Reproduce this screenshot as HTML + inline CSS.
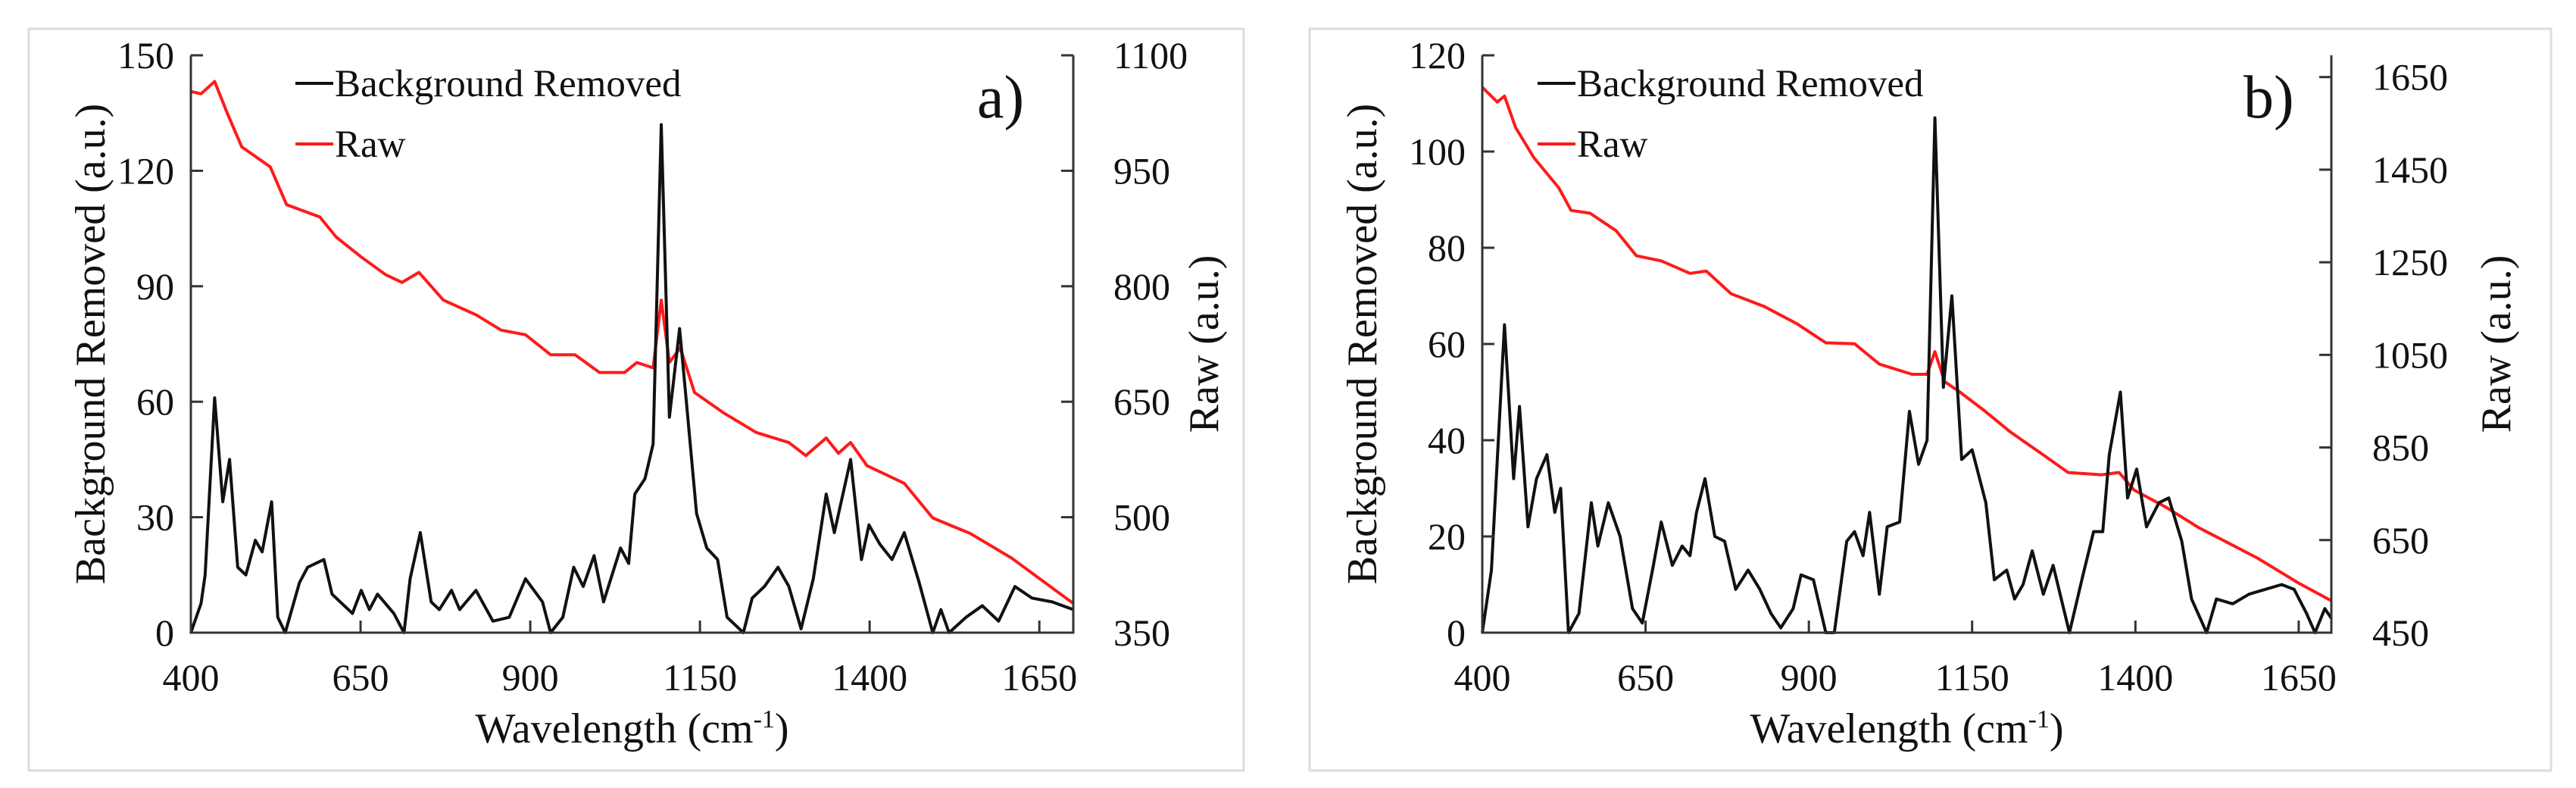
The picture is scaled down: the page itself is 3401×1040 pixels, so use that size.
<!DOCTYPE html>
<html><head><meta charset="utf-8"><style>
html,body{margin:0;padding:0;background:#fff;}
svg{display:block;font-family:"Liberation Serif",serif;}
text{font-family:"Liberation Serif",serif;}
</style></head><body>
<svg id="fig" width="3401" height="1040" viewBox="0 0 3401 1040" xmlns="http://www.w3.org/2000/svg" font-family="Liberation Serif, serif"></svg>
<script>
// ---- Panel a data ----
const aBgX=[400,415,421,435,447,457,469,481,495,505,519,528,539,560,572,596,608,638,651,663,675,699,714,723,738,754,766,784,796,820,845,869,893,918,930,948,964,978,994,1008,1033,1045,1054,1069,1081,1093,1105,1120,1130,1145,1160,1176,1190,1214,1227,1245,1265,1281,1299,1317,1336,1348,1372,1388,1399,1415,1433,1451,1473,1493,1505,1517,1542,1566,1590,1614,1639,1669,1700];
const aBgY=[0,7.6,15,61,34,45,17,15,24,21,34,4,0,13,17,19,10,5,11,6,10,5,0,14,26,8,6,11,6,11,3,4,14,8,0,4,17,12,20,8,22,18,36,40,49,132,56,79,60,31,22,19,4,0,9,12,17,12,1,14,36,26,45,19,28,23,19,26,13,0,6,0,4,7,3,12,9,8,6];
const aRawX=[400,415,435,454,475,517,541,590,614,651,687,711,736,772,820,857,893,930,966,1002,1039,1057,1081,1093,1105,1121,1142,1184,1233,1281,1306,1336,1354,1372,1396,1451,1493,1548,1609,1700];
const aRawY=[1053,1050,1066,1024,981,955,906,890,864,838,815,805,818,782,763,743,737,711,711,688,688,701,694,782,701,720,662,636,610,597,580,603,583,597,567,544,499,479,447,388];
const aLeftTicks=[0,30,60,90,120,150];
const aRightTicks=[350,500,650,800,950,1100];
// ---- Panel b data ----
const bBgX=[400,414,434,448,457,470,483,499,511,520,532,548,567,577,593,611,630,645,662,674,691,706,718,728,741,756,771,788,807,825,842,857,876,888,907,926,939,958,970,983,993,1008,1020,1039,1054,1068,1081,1093,1106,1119,1134,1150,1171,1184,1203,1215,1228,1242,1259,1274,1299,1318,1336,1350,1360,1377,1388,1402,1417,1436,1451,1471,1486,1509,1524,1549,1574,1599,1624,1643,1662,1675,1690,1700];
const bBgY=[0,13,64,32,47,22,32,37,25,30,0,4,27,18,27,20,5,2,14,23,14,18,16,25,32,20,19,9,13,9,4,1,5,12,11,0,0,19,21,16,25,8,22,23,46,35,40,107,51,70,36,38,27,11,13,7,10,17,8,14,0,11,21,21,37,50,28,34,22,27,28,19,7,0,7,6,8,9,10,9,4,0,5,3];
const bRawX=[400,423,434,451,479,517,536,565,605,636,674,718,743,781,831,882,926,970,1008,1058,1081,1093,1108,1131,1171,1209,1259,1297,1348,1375,1398,1448,1498,1587,1650,1700];
const bRawY=[1628,1596,1609,1541,1476,1411,1362,1356,1318,1264,1253,1226,1231,1182,1155,1117,1076,1074,1030,1008,1008,1057,992,970,927,883,834,796,791,796,758,720,676,611,557,519];
const bLeftTicks=[0,20,40,60,80,100,120];
const bRightTicks=[450,650,850,1050,1250,1450,1650];
const xTicks=[400,650,900,1150,1400,1650];

const NS="http://www.w3.org/2000/svg";
const FF='Liberation Serif, serif';
const svg=document.getElementById('fig');
function mk(tag,attrs,parent){const e=document.createElementNS(NS,tag);for(const k in attrs)e.setAttribute(k,attrs[k]);if(tag==='text')e.setAttribute('font-family',FF);(parent||svg).appendChild(e);return e;}

function panel(p){
  const g=mk('g',{});
  
  
  const fr=mk('rect',{x:p.bx,y:38,width:p.bw,height:979,fill:'none',stroke:'#dcdcdc','stroke-width':3},g);
  
  
  const L=p.L,R=p.R,T=73,B=835;
  const xs=v=>L+(v-400)/(1700-400)*(R-L);
  const ys=v=>B-(v-p.ymin)/(p.ymax-p.ymin)*(B-T);
  const yr=v=>B-(v-p.rmin)/(p.rmax-p.rmin)*(B-T);
  const rp=mk('polyline',{points:p.rawX.map((x,i)=>xs(x)+','+yr(p.rawY[i])).join(' '),fill:'none',stroke:'#ff1a1a','stroke-width':4,'stroke-linejoin':'round'},g);
  
  
  const bp=mk('polyline',{points:p.bgX.map((x,i)=>xs(x)+','+ys(p.bgY[i])).join(' '),fill:'none',stroke:'#111','stroke-width':4,'stroke-linejoin':'round'},g);
  
  
  const ax=mk('path',{d:`M${L},${T}V${B}H${R}V${T}`,fill:'none',stroke:'#333','stroke-width':3},g);
  
  
  p.left.forEach(v=>{
    mk('line',{x1:L,x2:L+16,y1:ys(v),y2:ys(v),stroke:'#333','stroke-width':3},g);
    const t=mk('text',{x:L-22,y:ys(v)+17,'text-anchor':'end','font-size':50,fill:'#111'},g);
    t.textContent=v;
    
    
  });
  p.right.forEach(v=>{
    mk('line',{x1:R-16,x2:R,y1:yr(v),y2:yr(v),stroke:'#333','stroke-width':3},g);
    const t=mk('text',{x:p.rlx,y:yr(v)+17,'text-anchor':'start','font-size':50,fill:'#111'},g);
    t.textContent=v;
    
    
  });
  xTicks.forEach(v=>{
    mk('line',{x1:xs(v),x2:xs(v),y1:B,y2:B-16,stroke:'#333','stroke-width':3},g);
    const t=mk('text',{x:xs(v),y:911,'text-anchor':'middle','font-size':50,fill:'#111'},g);
    t.textContent=v;
    
    
  });
  const xt=mk('text',{x:(L+R)/2,y:980,'text-anchor':'middle','font-size':56,fill:'#111'},g);
  xt.innerHTML='Wavelength (cm<tspan dy="-20" font-size="34">-1</tspan><tspan dy="20">)</tspan>';
  
  
  const yt=mk('text',{x:0,y:0,'text-anchor':'middle','font-size':56,fill:'#111',transform:`translate(${p.ytx},${(T+B)/2}) rotate(-90)`},g);
  yt.textContent='Background Removed (a.u.)';
  
  
  const rt=mk('text',{x:0,y:0,'text-anchor':'middle','font-size':56,fill:'#111',transform:`translate(${p.rtx},${(T+B)/2}) rotate(-90)`},g);
  rt.textContent='Raw (a.u.)';
  
  
  const l1=mk('line',{x1:p.lgx,x2:p.lgx+50,y1:110,y2:110,stroke:'#111','stroke-width':4},g);
  
  
  const t1=mk('text',{x:p.lgx+52,y:127,'font-size':51,fill:'#111'},g);
  t1.textContent='Background Removed';
  
  
  const l2=mk('line',{x1:p.lgx,x2:p.lgx+50,y1:190,y2:190,stroke:'#ff1a1a','stroke-width':4},g);
  
  
  const t2=mk('text',{x:p.lgx+52,y:207,'font-size':51,fill:'#111'},g);
  t2.textContent='Raw';
  
  
  const pl=mk('text',{x:p.plx,y:155,'font-size':80,fill:'#111'},g);
  pl.textContent=p.id+')';
  
  
}
panel({id:'a',bx:38,bw:1604,L:252,R:1417,ymin:0,ymax:150,rmin:350,rmax:1100,bgX:aBgX,bgY:aBgY,rawX:aRawX,rawY:aRawY,left:aLeftTicks,right:aRightTicks,rlx:1470,ytx:138,rtx:1608,lgx:390,plx:1290});
panel({id:'b',bx:1729,bw:1639,L:1957,R:3078,ymin:0,ymax:120,rmin:450,rmax:1697,bgX:bBgX,bgY:bBgY,rawX:bRawX,rawY:bRawY,left:bLeftTicks,right:bRightTicks,rlx:3132,ytx:1817,rtx:3314,lgx:2030,plx:2962});
</script>
</body></html>
